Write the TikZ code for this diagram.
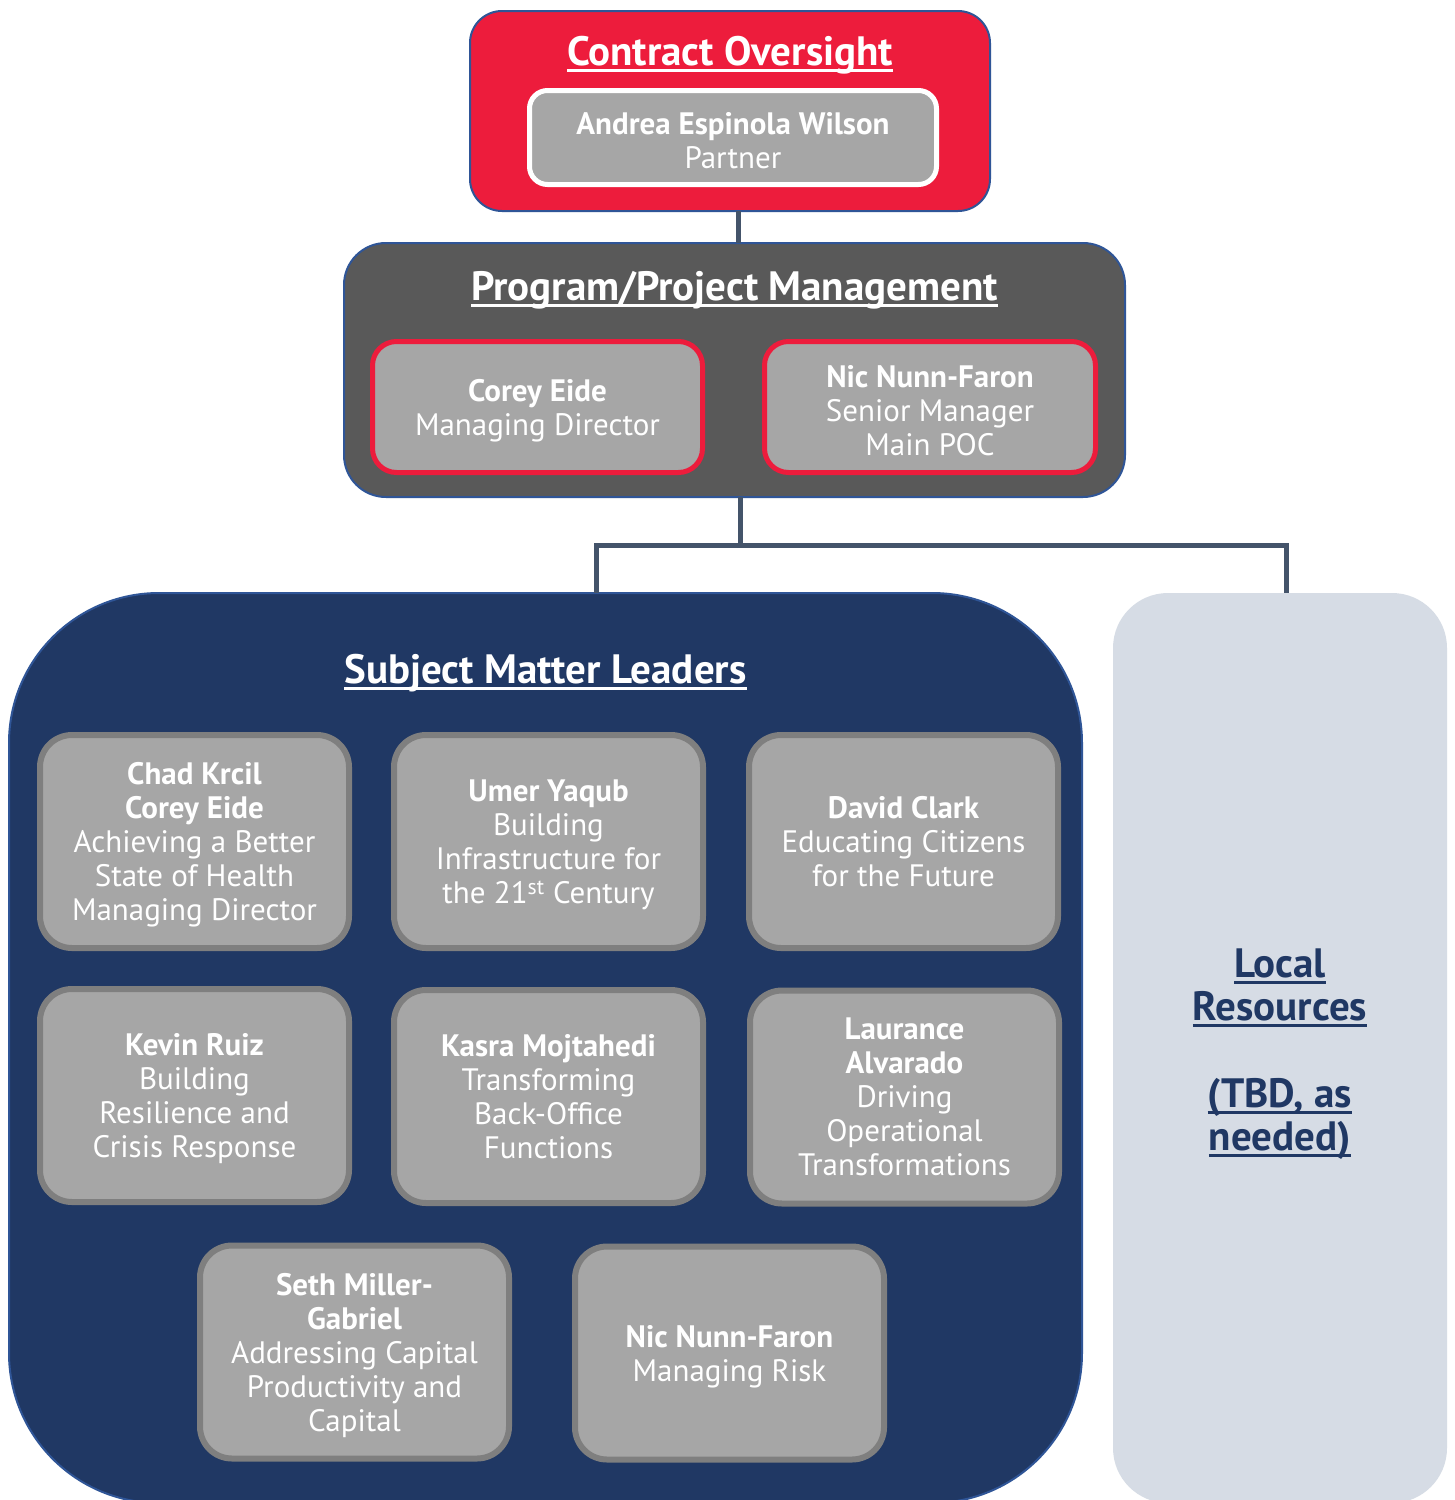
\documentclass[tikz,border=0pt]{standalone}
\usepackage{fontspec}
\setmainfont{PT Sans}
\usetikzlibrary{calc}

% underline with a fixed drop below the baseline
\newcommand{\titleline}[1]{\setbox0=\hbox{#1}\rlap{\rule[-7pt]{\wd0}{3.5pt}}\box0}

\definecolor{oversightred}{RGB}{237,28,60}
\definecolor{edgeblue}{RGB}{47,85,151}
\definecolor{pmgray}{RGB}{89,89,89}
\definecolor{cardgray}{RGB}{166,166,166}
\definecolor{cardedge}{RGB}{127,127,127}
\definecolor{navy}{RGB}{32,56,100}
\definecolor{paleblue}{RGB}{214,220,229}
\definecolor{linkslate}{RGB}{68,84,106}

\tikzset{
  every node/.style={inner sep=0pt, outer sep=0pt},
  panel/.style={rectangle, line width=2pt, draw=edgeblue},
  titletext/.style={anchor=base, text=white, font=\fontsize{41}{46}\selectfont\bfseries},
  bodytext/.style={align=center, text=white, font=\fontsize{31}{34}\selectfont},
  card/.style={rectangle, rounded corners=32pt, fill=cardgray, draw=cardedge,
    line width=6pt, minimum width=309pt, minimum height=213pt, bodytext},
  pmcard/.style={rectangle, rounded corners=24pt, fill=cardgray, draw=oversightred,
    line width=5pt, minimum height=131pt, bodytext},
  lrtext/.style={anchor=base, text=navy, font=\fontsize{41}{46}\selectfont\bfseries},
  conn/.style={draw=linkslate, line width=5pt, line join=miter}
}

\begin{document}
\begin{tikzpicture}[x=1pt,y=-1pt]
  \clip (0,0) rectangle (1455,1500);
  \fill[white] (0,0) rectangle (1455,1500);

  % contract oversight
  \node[panel, fill=oversightred, rounded corners=32pt,
        minimum width=520pt, minimum height=200pt] (co) at (730,111) {};
  \node[titletext] (cotitle) at (730,65) {\titleline{Contract Oversight}};
  \node[rectangle, rounded corners=18pt, fill=cardgray, draw=white, line width=5pt,
        minimum width=407pt, minimum height=94pt] (partner) at (733,137.5) {};
  \node[bodytext] (partnertext) at (733,140.5)
        {\textbf{Andrea Espinola Wilson}\\Partner};

  % program / project management
  \node[panel, fill=pmgray, rounded corners=42pt,
        minimum width=781pt, minimum height=254pt] (pm) at (734.5,370) {};
  \node[titletext] (pmtitle) at (734.5,300) {\titleline{Program/Project Management}};
  \node[pmcard, minimum width=330pt] (pmcorey) at (537.5,407)
        {\textbf{Corey Eide}\\\smash{Managing Director}};
  \node[pmcard, minimum width=331pt] (pmnic) at (930,407) {};
  \node[bodytext] (pmnictext) at (930,411)
        {\textbf{Nic Nunn-Faron}\\Senior Manager\\Main POC};

  % subject matter leaders
  \node[panel, fill=navy, rounded corners=150pt,
        minimum width=1073pt, minimum height=910pt] (sml) at (545.5,1048) {};
  \node[titletext] (smltitle) at (545.5,683) {\titleline{Subject Matter Leaders}};

  \node[card] (chad) at (194.5,841.5)
        {\textbf{Chad Krcil}\\\textbf{Corey Eide}\\Achieving a Better\\State of Health\\\smash{Managing Director}};
  \node[card] (umer) at (548.5,841.5)
        {\textbf{Umer Yaqub}\\Building\\Infrastructure for\\\smash{the 21\textsuperscript{st} Century}};
  \node[card] (david) at (903.5,841.5)
        {\textbf{David Clark}\\Educating Citizens\\for the Future};
  \node[card] (kevin) at (194.5,1095.5)
        {\textbf{Kevin Ruiz}\\Building\\Resilience and\\\smash{Crisis Response}};
  \node[card] (kasra) at (548.5,1096.5)
        {\textbf{Kasra Mojtahedi}\\Transforming\\Back-Office\\Functions};
  \node[card] (laurance) at (904.5,1097)
        {\textbf{Laurance}\\\textbf{Alvarado}\\Driving\\Operational\\Transformations};
  \node[card] (seth) at (354.5,1352)
        {\textbf{Seth Miller-}\\\textbf{Gabriel}\\Addressing Capital\\Productivity and\\\smash{Capital}};
  \node[card] (nicrisk) at (729.5,1353)
        {\textbf{Nic Nunn-Faron}\\\smash{Managing Risk}};

  % local resources
  \node[rectangle, rounded corners=55pt, fill=paleblue,
        minimum width=334pt, minimum height=910pt] (lr) at (1280,1048) {};
  \node[lrtext] (lrl1) at (1280,977) {\titleline{Local}};
  \node[lrtext] (lrl2) at (1280,1020) {\titleline{Resources}};
  \node[lrtext] (lrl3) at (1280,1107) {\titleline{(TBD, as}};
  \node[lrtext] (lrl4) at (1280,1150) {\titleline{needed)}};

  % connectors
  \draw[conn] ([xshift=4pt]pm.north) -- ([xshift=4pt]pm.north |- co.south);
  \coordinate (hub) at ($(pm.south)+(6,48)$);
  \draw[conn] ([xshift=6pt]pm.south) -- (hub);
  \draw[conn] ([xshift=50.5pt]sml.north) |- (hub) -| ([xshift=6pt]lr.north);
\end{tikzpicture}
\end{document}
